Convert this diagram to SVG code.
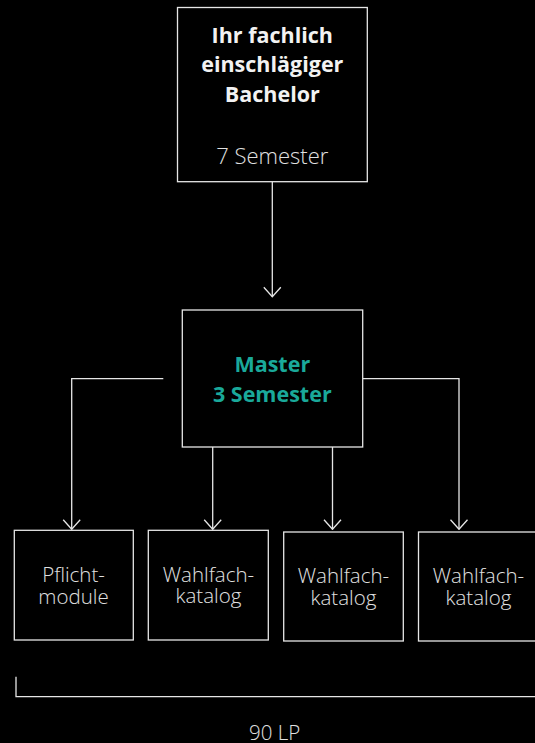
<svg xmlns="http://www.w3.org/2000/svg" width="535" height="743" viewBox="0 0 535 743">
<defs>
<style>
.box{fill:#000;stroke:#e6e6e6;stroke-width:1.3}
.ln{fill:none;stroke:#e6e6e6;stroke-width:1.3}
.t{font-family:"Open Sans","Liberation Sans",sans-serif;font-weight:300;font-size:20.5px;fill:#e0e0e0;text-anchor:middle}
.b{font-family:"Open Sans","Liberation Sans",sans-serif;font-weight:700;font-size:21.5px;fill:#f2f2f2;text-anchor:middle}
.m{font-family:"Open Sans","Liberation Sans",sans-serif;font-weight:700;font-size:21.5px;fill:#1aa99a;text-anchor:middle}
</style>
<marker id="ah" viewBox="0 0 20 12" refX="10" refY="11" markerWidth="20" markerHeight="12" markerUnits="userSpaceOnUse" orient="0">
<path d="M1.5 1.5 L10 11 L18.5 1.5" fill="none" stroke="#e6e6e6" stroke-width="1.3"/>
</marker>
</defs>
<rect width="535" height="743" fill="#000"/>
<g id="connectors">
<path class="ln" d="M272.3 182 V296.7" marker-end="url(#ah)"/>
<path class="ln" d="M163.3 378.7 H71.7 V529.3" marker-end="url(#ah)"/>
<path class="ln" d="M212.7 447 V529.3" marker-end="url(#ah)"/>
<path class="ln" d="M332.5 447 V529.3" marker-end="url(#ah)"/>
<path class="ln" d="M362.7 378.7 H459 V529.3" marker-end="url(#ah)"/>
</g>
<g id="bachelor">
<rect class="box" x="177.5" y="7.5" width="189.8" height="174.2"/>
<text class="b" x="272.3" y="43.3">Ihr fachlich</text>
<text class="b" x="272.3" y="72.3">einschlägiger</text>
<text class="b" x="272.3" y="101.7">Bachelor</text>
<text class="t" x="272.3" y="164.3" style="font-size:22px">7 Semester</text>
</g>
<g id="master">
<rect class="box" x="182.3" y="310" width="180.4" height="137"/>
<text class="m" x="272.3" y="372.3">Master</text>
<text class="m" x="272.3" y="401.7">3 Semester</text>
</g>
<g id="pflichtmodule">
<rect class="box" x="14.3" y="530.3" width="119" height="109.7"/>
<text class="t" x="73.5" y="582.3">Pflicht-</text>
<text class="t" x="73.5" y="604">module</text>
</g>
<g id="wahlfach1">
<rect class="box" x="148.3" y="530.3" width="120" height="109.7"/>
<text class="t" x="208.5" y="581.7">Wahlfach-</text>
<text class="t" x="208.5" y="603.3">katalog</text>
</g>
<g id="wahlfach2">
<rect class="box" x="283.7" y="532" width="119.6" height="109"/>
<text class="t" x="343.5" y="582.7">Wahlfach-</text>
<text class="t" x="343.5" y="605">katalog</text>
</g>
<g id="wahlfach3">
<rect class="box" x="418.5" y="532" width="120" height="109"/>
<text class="t" x="478.5" y="582.7">Wahlfach-</text>
<text class="t" x="478.5" y="605">katalog</text>
</g>
<g id="total">
<path class="ln" d="M16 676.7 V696.7 H540"/>
<text class="t" x="274.7" y="740">90 LP</text>
</g>
</svg>
